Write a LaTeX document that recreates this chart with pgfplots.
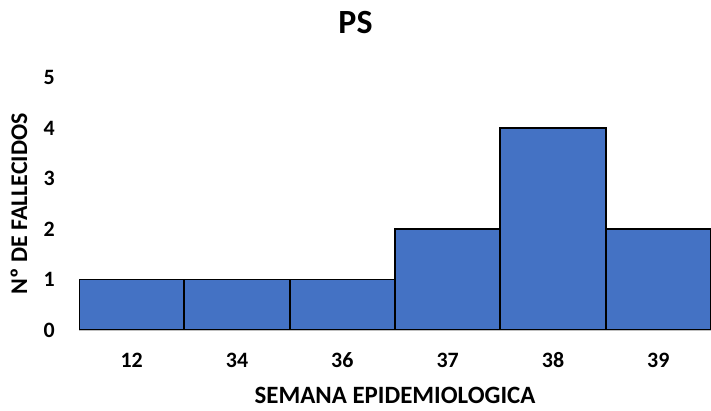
\documentclass[border=0pt]{standalone}
\usepackage{pgfplots}
\pgfplotsset{compat=1.18}
\usepackage{fontspec}
\setmainfont{Carlito}
\definecolor{barblue}{HTML}{4472C4}
\definecolor{basegray}{HTML}{BFBFBF}
\begin{document}
\begin{tikzpicture}
\useasboundingbox (0,0) rectangle (711bp,411bp);
\node[font=\fontsize{34}{38}\selectfont\bfseries, anchor=base] at (355.5bp,377bp) {PS};
\begin{axis}[
  at={(79bp,81bp)}, anchor=south west,
  scale only axis, width=632bp, height=252.5bp,
  xmin=-0.5, xmax=5.5, ymin=0, ymax=5,
  axis x line*=bottom, axis y line*=left,
  x axis line style={draw=basegray, line width=1.5bp, -},
  y axis line style={draw=none},
  major tick length=0,
  xtick={0,1,2,3,4,5},
  xticklabels={12,34,36,37,38,39},
  ytick={0,1,2,3,4,5},
  /pgf/number format/assume math mode=true,
  tick label style={font=\fontsize{22}{26}\selectfont\bfseries, inner sep=0pt},
  xticklabel style={anchor=base, yshift=-38bp},
  yticklabel style={anchor=east, xshift=-24bp},
  xlabel={SEMANA EPIDEMIOLOGICA},
  ylabel={Nº DE FALLECIDOS},
  every axis x label/.style={at={(axis description cs:0.5,-0.29)}, anchor=base, font=\fontsize{25}{29}\selectfont\bfseries, inner sep=0pt, text depth=0pt},
  every axis y label/.style={at={(axis description cs:-0.095,0.5)}, anchor=center, rotate=90, font=\fontsize{24}{28}\selectfont\bfseries, inner sep=0pt},
  ybar, bar width=1, bar shift=0,
]
\addplot[fill=barblue, draw=black, line width=1.8bp] coordinates {(0,1) (1,1) (2,1) (3,2) (4,4) (5,2)};
\end{axis}
\end{tikzpicture}
\end{document}
